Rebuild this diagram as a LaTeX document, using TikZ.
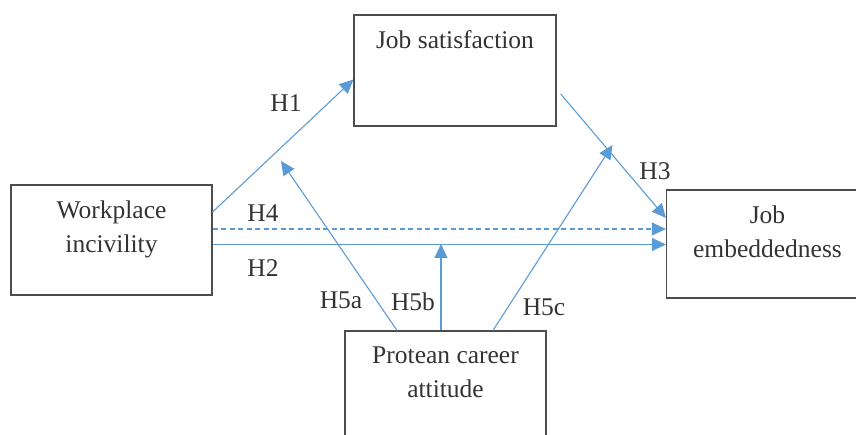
\documentclass[tikz,border=0pt]{standalone}
\usepackage{fontspec}
\setmainfont{Liberation Serif}
\usetikzlibrary{arrows.meta}
\definecolor{linkblue}{HTML}{5B9BD5}
\definecolor{boxgray}{HTML}{4D4D4D}
\definecolor{inkgray}{HTML}{333333}
\begin{document}
\begin{tikzpicture}[x=1pt, y=-1pt,
            every node/.style = {text=inkgray, font=\fontsize{25.5}{34}\selectfont},
            box/.style = {draw=boxgray, line width=1.2pt, rectangle, minimum width=201pt, minimum height=110pt},
            boxtext/.style = {anchor=north, align=center, inner sep=0pt, yshift=-16pt},
            link/.style = {draw=linkblue, line width=1.1pt, -{Triangle[length=14pt,width=13pt]}},
            hyp/.style = {inner sep=1pt}]
            \clip (0,0) rectangle (856,435);
            \useasboundingbox (0,0) rectangle (856,435);
            % constructs
            \node[box, label={[boxtext]north:Workplace\\incivility}] (wi) at (111.5,240) {};
            \node[box, minimum width=202pt, minimum height=111pt, label={[boxtext]north:Job satisfaction}] (js) at (455,70.5) {};
            \node[box, minimum width=202pt, minimum height=108pt, label={[boxtext]north:Job\\embeddedness}] (je) at (767.5,244) {};
            \node[box, label={[boxtext]north:Protean career\\attitude}] (pca) at (445.5,386) {};
            % free ends of the moderating paths
            \coordinate (h3start) at (560.7,94);
            \coordinate (h5atip) at (281,161);
            \coordinate (h5btip) at (441,244);
            \coordinate (h5ctip) at (612.5,145);
            % paths
            \draw[link] ([yshift=28pt]wi.east) -- ([yshift=-9pt]js.west);
            \draw[link, dash pattern=on 5pt off 3.5pt] ([yshift=11pt]wi.east) -- ([yshift=15pt]je.west);
            \draw[link] ([yshift=-4.5pt]wi.east) -- ([yshift=-0.5pt]je.west);
            \draw[link] (h3start) -- ([yshift=26pt]je.west);
            \draw[link] ([xshift=-48.5pt]pca.north) -- (h5atip);
            \draw[link] ([xshift=-4.5pt]pca.north) -- (h5btip);
            \draw[link] ([xshift=47.5pt]pca.north) -- (h5ctip);
            % hypotheses
            \node[hyp] (lh1) at (286,103) {H1};
            \node[hyp] (lh4) at (263,213) {H4};
            \node[hyp] (lh2) at (263,268) {H2};
            \node[hyp] (lh3) at (655,171) {H3};
            \node[hyp] (lh5a) at (341,300) {H5a};
            \node[hyp] (lh5b) at (413,302) {H5b};
            \node[hyp] (lh5c) at (544,307) {H5c};
        \end{tikzpicture}
\end{document}
